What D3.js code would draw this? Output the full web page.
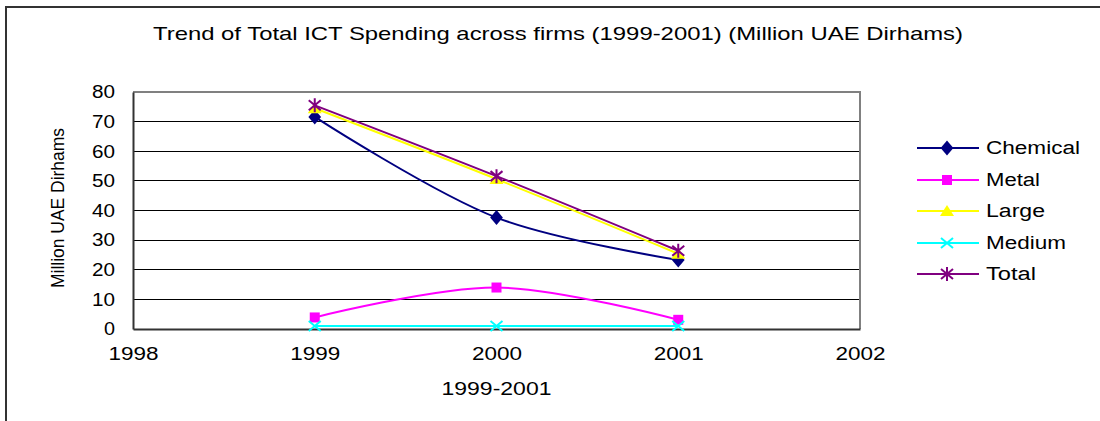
<!DOCTYPE html>
<html>
<head>
<meta charset="utf-8">
<script src="https://cdn.jsdelivr.net/npm/d3@7"></script>
<style>
  html, body { margin: 0; padding: 0; background: #fff; }
  svg { display: block; font-family: "Liberation Sans", Arial, sans-serif; }
</style>
</head>
<body>
<svg id="chart" width="1100" height="421"></svg>
<script>
// Data: ICT spending (Million UAE Dirhams)
const years = [1999, 2000, 2001];
const chemical = [71.6, 37.6, 23.3];
const metal = [3.9, 14.0, 3.1];
const large = [74.5, 50.6, 25.4];
const medium = [1.0, 1.0, 1.0];
const total = [75.5, 51.6, 26.4];
const xTicks = [1998, 1999, 2000, 2001, 2002];
const yTicks = [0, 10, 20, 30, 40, 50, 60, 70, 80];
const seriesNames = ["Chemical", "Metal", "Large", "Medium", "Total"];
const seriesColors = ["#000080", "#FF00FF", "#FFFF00", "#00FFFF", "#800080"];
const seriesMarkers = ["diamond", "square", "triangle", "cross", "asterisk"];
const seriesValues = [chemical, metal, large, medium, total];

const titleText = "Trend of Total ICT Spending across firms (1999-2001) (Million UAE Dirhams)";
const xTitle = "1999-2001";
const yTitle = "Million UAE Dirhams";

const svg = d3.select("#chart");
const plot = { left: 133, right: 860, top: 92, bottom: 329 };

const x = d3.scaleLinear().domain([1998, 2002]).range([plot.left, plot.right]);
const y = d3.scaleLinear().domain([0, 80]).range([plot.bottom, plot.top]);

// Outer frame (top and left edges visible)
svg.append("path")
  .attr("d", "M6,421 L6,7 L1100,7")
  .attr("fill", "none").attr("stroke", "#333").attr("stroke-width", 2);

// Title
svg.append("text")
  .attr("x", 153).attr("y", 40)
  .attr("font-size", 19)
  .attr("textLength", 810).attr("lengthAdjust", "spacingAndGlyphs")
  .text(titleText);

// Horizontal gridlines
svg.append("g").selectAll("line")
  .data(yTicks.filter(d => d > 0 && d < 80))
  .join("line")
  .attr("x1", plot.left).attr("x2", plot.right)
  .attr("y1", d => y(d)).attr("y2", d => y(d))
  .attr("stroke", "#000").attr("stroke-width", 1).attr("shape-rendering", "crispEdges");

// Plot border: gray top & right
svg.append("path")
  .attr("d", `M${plot.left},${y(80)} L${plot.right},${y(80)} L${plot.right},${plot.bottom}`)
  .attr("fill", "none").attr("stroke", "#808080").attr("stroke-width", 2);

// Y axis
const yAxis = svg.append("g")
  .attr("transform", `translate(${plot.left},0)`)
  .call(d3.axisLeft(y).tickValues(yTicks).tickSize(0).tickPadding(18));
yAxis.select(".domain").attr("stroke", "#333").attr("stroke-width", 2);
yAxis.selectAll("text")
  .attr("font-size", 18).attr("fill", "#000")
  .attr("font-family", "Liberation Sans, Arial, sans-serif")
  .attr("textLength", d => d === 0 ? 11 : 23).attr("lengthAdjust", "spacingAndGlyphs");

// X axis
const xAxis = svg.append("g")
  .attr("transform", `translate(0,${plot.bottom})`)
  .call(d3.axisBottom(x).tickValues(xTicks).tickFormat(d3.format("d")).tickSize(0).tickPadding(18));
xAxis.select(".domain").attr("stroke", "#333").attr("stroke-width", 2);
xAxis.selectAll("text")
  .attr("font-size", 18).attr("fill", "#000")
  .attr("font-family", "Liberation Sans, Arial, sans-serif")
  .attr("textLength", 50).attr("lengthAdjust", "spacingAndGlyphs");

// Axis titles
svg.append("text")
  .attr("x", (plot.left + plot.right) / 2).attr("y", 395)
  .attr("text-anchor", "middle").attr("font-size", 18)
  .attr("textLength", 110).attr("lengthAdjust", "spacingAndGlyphs")
  .text(xTitle);

svg.append("text")
  .attr("transform", `translate(64,208) rotate(-90)`)
  .attr("text-anchor", "middle").attr("font-size", 18)
  .attr("textLength", 160).attr("lengthAdjust", "spacingAndGlyphs")
  .text(yTitle);

// Marker drawing
function drawMarker(g, type, color) {
  switch (type) {
    case "diamond":
      g.append("path").attr("d", d3.symbol(d3.symbolDiamond, 90)())
        .attr("transform", "scale(1.25,0.85)").attr("fill", color);
      break;
    case "square":
      g.append("rect").attr("x", -5).attr("y", -5).attr("width", 10).attr("height", 10).attr("fill", color);
      break;
    case "triangle":
      g.append("path").attr("d", "M0,-6 L7,5 L-7,5 Z").attr("fill", color);
      break;
    case "cross":
      g.append("path").attr("d", "M-6,-5 L6,5 M-6,5 L6,-5")
        .attr("stroke", color).attr("stroke-width", 2).attr("fill", "none");
      break;
    case "asterisk":
      g.append("path").attr("d", "M-6,-5 L6,5 M-6,5 L6,-5 M0,-7 L0,7")
        .attr("stroke", color).attr("stroke-width", 2).attr("fill", "none");
      break;
  }
}

const line = d3.line()
  .x((d, i) => x(years[i]))
  .y(d => y(d))
  .curve(d3.curveCatmullRom.alpha(0.5));

// Series lines and markers
seriesNames.forEach((name, k) => {
  const vals = seriesValues[k];
  const g = svg.append("g").attr("class", "series");
  g.append("path").datum(vals)
    .attr("d", line)
    .attr("fill", "none").attr("stroke", seriesColors[k]).attr("stroke-width", 2);
  vals.forEach((v, i) => {
    const m = g.append("g").attr("transform", `translate(${x(years[i])},${y(v)})`);
    drawMarker(m, seriesMarkers[k], seriesColors[k]);
  });
});

// Legend
const legendY = [148, 180, 211, 243, 274];
const legendWidths = [94, 54, 59, 80, 50];
seriesNames.forEach((name, k) => {
  const g = svg.append("g").attr("transform", `translate(0,${legendY[k]})`);
  g.append("line").attr("x1", 917).attr("x2", 979).attr("y1", 0).attr("y2", 0)
    .attr("stroke", seriesColors[k]).attr("stroke-width", 2);
  const m = g.append("g").attr("transform", "translate(947,0)");
  drawMarker(m, seriesMarkers[k], seriesColors[k]);
  g.append("text").attr("x", 986).attr("y", 6)
    .attr("font-size", 18)
    .attr("textLength", legendWidths[k]).attr("lengthAdjust", "spacingAndGlyphs")
    .text(name);
});
</script>
</body>
</html>
